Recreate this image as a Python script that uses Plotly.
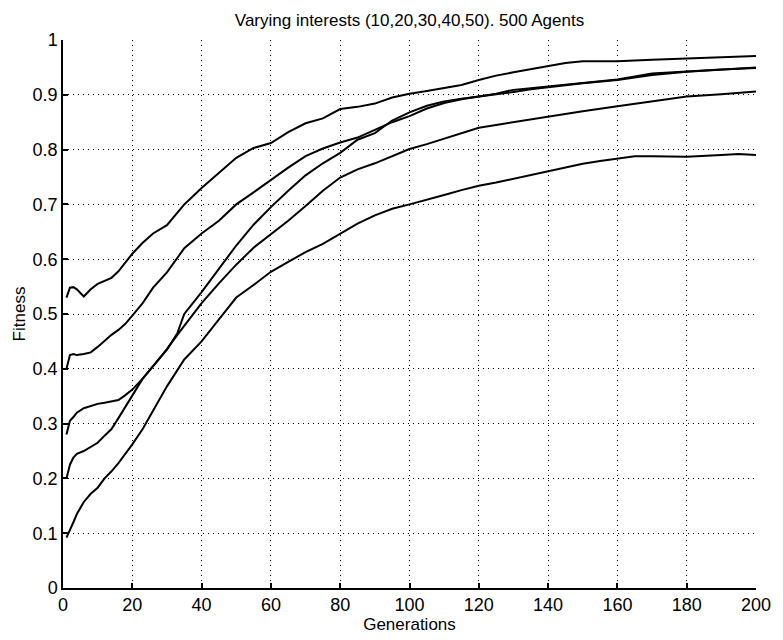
import plotly.graph_objects as go

# Mean population fitness per generation, one run per interest count
gen_a = [1, 2, 3, 4, 6, 8, 10, 12, 14, 16, 18, 20, 23, 26, 30, 35, 40, 45, 50, 55, 60, 65, 70, 75,
         80, 85, 90, 95, 100, 105, 110, 115, 120, 125, 130, 135, 140, 145, 150, 160, 170, 180, 190, 200]
fit_a = [0.530, 0.548, 0.549, 0.545, 0.532, 0.545, 0.555, 0.561, 0.566, 0.578, 0.595, 0.610, 0.630, 0.647,
         0.662, 0.700, 0.730, 0.758, 0.785, 0.803, 0.812, 0.832, 0.848, 0.857, 0.874, 0.878, 0.884, 0.895,
         0.902, 0.907, 0.913, 0.918, 0.927, 0.935, 0.941, 0.947, 0.953, 0.958, 0.961, 0.961, 0.964, 0.966,
         0.969, 0.971]

gen_b = [1, 2, 3, 4, 6, 8, 10, 12, 14, 16, 18, 20, 23, 26, 30, 35, 40, 45, 50, 55, 60, 65, 70, 75,
         80, 85, 90, 95, 100, 105, 110, 115, 120, 125, 130, 135, 140, 145, 150, 160, 170, 180, 190, 200]
fit_b = [0.400, 0.425, 0.427, 0.425, 0.427, 0.430, 0.440, 0.451, 0.462, 0.471, 0.482, 0.497, 0.520, 0.548,
         0.576, 0.620, 0.647, 0.670, 0.700, 0.722, 0.745, 0.767, 0.788, 0.802, 0.813, 0.822, 0.836, 0.850,
         0.861, 0.875, 0.885, 0.892, 0.897, 0.902, 0.909, 0.912, 0.915, 0.918, 0.922, 0.928, 0.939, 0.943,
         0.946, 0.949]

gen_c = [1, 2, 3, 4, 6, 8, 10, 12, 14, 16, 18, 20, 23, 26, 30, 33, 35, 40, 45, 50, 55, 60, 65, 70, 75,
         80, 85, 90, 95, 100, 105, 110, 115, 120, 125, 130, 135, 140, 145, 150, 160, 170, 180, 190, 200]
fit_c = [0.280, 0.305, 0.312, 0.320, 0.328, 0.332, 0.336, 0.338, 0.340, 0.343, 0.352, 0.362, 0.382, 0.404,
         0.435, 0.465, 0.500, 0.540, 0.583, 0.625, 0.663, 0.695, 0.725, 0.753, 0.775, 0.794, 0.818, 0.830,
         0.853, 0.868, 0.880, 0.888, 0.893, 0.897, 0.900, 0.905, 0.910, 0.914, 0.918, 0.921, 0.927, 0.936,
         0.942, 0.946, 0.950]

gen_d = [1, 2, 3, 4, 6, 8, 10, 12, 14, 16, 18, 20, 23, 26, 30, 33, 35, 40, 45, 50, 55, 60, 65, 70, 75,
         80, 85, 90, 95, 100, 105, 110, 115, 120, 125, 130, 135, 140, 150, 160, 170, 180, 190, 200]
fit_d = [0.200, 0.225, 0.238, 0.245, 0.250, 0.257, 0.265, 0.278, 0.290, 0.310, 0.330, 0.352, 0.382, 0.405,
         0.436, 0.462, 0.478, 0.520, 0.556, 0.590, 0.621, 0.645, 0.670, 0.697, 0.725, 0.749, 0.764, 0.775,
         0.788, 0.801, 0.810, 0.820, 0.830, 0.840, 0.845, 0.850, 0.856, 0.861, 0.870, 0.879, 0.888, 0.897,
         0.901, 0.906]

gen_e = [1, 2, 3, 4, 6, 8, 10, 12, 14, 16, 18, 20, 23, 26, 30, 35, 40, 45, 50, 55, 60, 65, 70, 75,
         80, 85, 90, 95, 100, 105, 110, 115, 120, 125, 130, 135, 140, 145, 150, 155, 160, 165, 170, 180,
         190, 195, 200]
fit_e = [0.092, 0.105, 0.120, 0.135, 0.157, 0.172, 0.183, 0.200, 0.213, 0.228, 0.245, 0.262, 0.290, 0.324,
         0.368, 0.417, 0.450, 0.490, 0.530, 0.553, 0.577, 0.595, 0.613, 0.628, 0.647, 0.665, 0.680, 0.692,
         0.700, 0.708, 0.717, 0.726, 0.734, 0.740, 0.747, 0.754, 0.760, 0.767, 0.774, 0.779, 0.784, 0.788,
         0.788, 0.787, 0.790, 0.792, 0.790]

x_ticks = list(range(0, 201, 20))
y_ticks = [round(0.1 * i, 1) for i in range(11)]

series = [(gen_a, fit_a), (gen_b, fit_b), (gen_c, fit_c), (gen_d, fit_d), (gen_e, fit_e)]

fig = go.Figure()
for gx, fy in series:
    fig.add_trace(go.Scatter(x=gx, y=fy, mode="lines",
                             line=dict(color="black", width=2),
                             showlegend=False, hoverinfo="skip"))

font_name = "Liberation Sans, Arial, sans-serif"
axis_common = dict(
    showline=True, linecolor="black", linewidth=1.5, mirror=False,
    ticks="inside", ticklen=5, tickcolor="black", tickwidth=1.5,
    showgrid=True, gridcolor="black", gridwidth=1, griddash="1px,4px",
    zeroline=False, tickfont=dict(family=font_name, size=18, color="black"),
)

fig.update_layout(
    width=783, height=640,
    paper_bgcolor="white", plot_bgcolor="white",
    margin=dict(l=63, r=18, t=40, b=44),
    font=dict(family=font_name, color="black"),
    title=dict(text="Varying interests (10,20,30,40,50). 500 Agents",
               x=0.5, xref="paper", xanchor="center",
               y=1 - 20 / 640, yref="container", yanchor="middle",
               font=dict(family=font_name, size=17, color="black")),
    xaxis=dict(range=[0, 200], tickvals=x_ticks,
               title=dict(text="Generations", standoff=1,
                          font=dict(family=font_name, size=17, color="black")),
               **axis_common),
    yaxis=dict(range=[0, 1], tickvals=y_ticks,
               title=dict(text="Fitness", standoff=3,
                          font=dict(family=font_name, size=17, color="black")),
               **axis_common),
)

fig.write_html("out.html")
